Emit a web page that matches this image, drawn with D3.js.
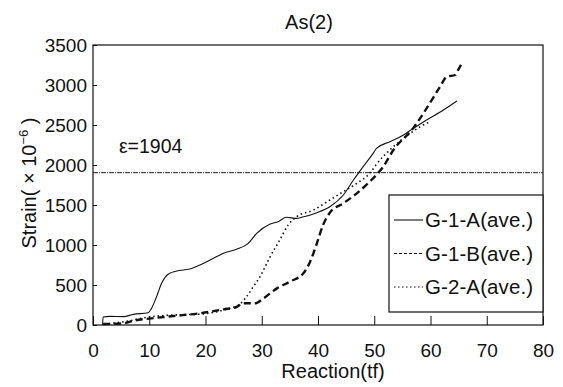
<!DOCTYPE html>
<html>
<head>
<meta charset="utf-8">
<script src="https://cdn.jsdelivr.net/npm/d3@7"></script>
<style>
  body { margin: 0; background: #fff; }
  text { font-family: "Liberation Sans", Arial, sans-serif; fill: #111; }
</style>
</head>
<body>
<div id="chart"></div>
<script>
// data
var xTicks = [0, 10, 20, 30, 40, 50, 60, 70, 80];
var yTicks = [0, 500, 1000, 1500, 2000, 2500, 3000, 3500];
var limitValue = 1904;

var g1aX = [1.7, 1.8, 3, 5.4, 7.2, 9.8, 10.4, 11.3, 12.2, 13.4, 14.9, 17.2, 19, 21.4, 23.2, 25.5, 27.6, 29.1, 31.5, 32.9, 34.4, 36.2, 37.1, 39.8, 42.1, 44.5, 46.3, 47.8, 49.8, 50.4, 52.8, 55.2, 56.9, 59.3, 62.3, 64.7];
var g1aY = [0, 100, 108, 105, 133, 154, 208, 354, 521, 637, 675, 700, 750, 833, 896, 946, 1021, 1146, 1262, 1292, 1346, 1333, 1346, 1404, 1479, 1625, 1812, 1958, 2146, 2208, 2292, 2375, 2458, 2562, 2687, 2800];

var g1bX = [1.8, 5.4, 7.2, 10.4, 14.3, 19, 23.2, 25.5, 26.7, 28.8, 30.3, 32.7, 35, 37.4, 38.6, 39.8, 40.9, 42.1, 44.5, 46.9, 49.2, 51.6, 53.4, 56.9, 59.3, 61.7, 62.9, 64.4, 64.9, 65.5];
var g1bY = [12, 21, 54, 83, 112, 146, 196, 225, 271, 271, 333, 458, 542, 646, 792, 1021, 1250, 1404, 1521, 1646, 1792, 1979, 2187, 2458, 2708, 2979, 3104, 3125, 3187, 3262];

var g2aX = [2, 5.4, 10.4, 14.3, 19, 23.2, 26.1, 27.3, 28.5, 29.7, 30.9, 31.5, 33.2, 34.7, 36.2, 39.2, 42.1, 44.5, 46.9, 49.2, 50.4, 53.4, 56.4, 59.3, 59.6];
var g2aY = [10, 40, 104, 125, 135, 187, 260, 354, 479, 604, 771, 854, 1062, 1250, 1354, 1437, 1562, 1667, 1771, 1896, 2010, 2229, 2396, 2521, 2530];

var seriesNames = ["G-1-A(ave.)", "G-1-B(ave.)", "G-2-A(ave.)"];

var svgWidth = 563, svgHeight = 387;
var margin = { top: 45, right: 20, bottom: 62, left: 93 };
var width = 450, height = 280;

var svg = d3.select("#chart").append("svg")
  .attr("width", svgWidth)
  .attr("height", svgHeight);

var g = svg.append("g")
  .attr("transform", "translate(" + margin.left + "," + margin.top + ")");

var x = d3.scaleLinear().domain([0, 80]).range([0, width]);
var y = d3.scaleLinear().domain([0, 3500]).range([height, 0]);

// axes, ticks pointing inward
var xAxis = g.append("g")
  .attr("transform", "translate(0," + height + ")")
  .call(d3.axisBottom(x).tickValues(xTicks).tickFormat(d3.format("d"))
    .tickSizeInner(-9).tickSizeOuter(0).tickPadding(19));
var yAxis = g.append("g")
  .call(d3.axisLeft(y).tickValues(yTicks).tickFormat(d3.format("d"))
    .tickSizeInner(-4).tickSizeOuter(0).tickPadding(10));

[xAxis, yAxis].forEach(function (a) {
  a.select(".domain").remove();
  a.selectAll("line").attr("stroke", "#111");
  a.selectAll("text").attr("font-size", 19).attr("font-family", "Liberation Sans, Arial, sans-serif").attr("fill", "#111");
});
yAxis.selectAll("text").attr("dy", "0.36em").attr("x", -6);

// frame
g.append("rect")
  .attr("width", width).attr("height", height)
  .attr("fill", "none").attr("stroke", "#111").attr("stroke-width", 1.2);

// limit line
g.append("line")
  .attr("x1", 0).attr("x2", width)
  .attr("y1", y(limitValue)).attr("y2", y(limitValue))
  .attr("stroke", "#222").attr("stroke-width", 1)
  .attr("stroke-dasharray", "5,1,1,1");
g.append("text")
  .attr("x", x(4.6)).attr("y", y(limitValue) - 20)
  .attr("font-size", 19.5)
  .text("\u03b5=1904");

// curves
var line = d3.line()
  .x(function (d) { return x(d[0]); })
  .y(function (d) { return y(d[1]); })
  .curve(d3.curveMonotoneX);

function pairs(xs, ys) { return xs.map(function (v, i) { return [v, ys[i]]; }); }

g.append("path").datum(pairs(g1aX, g1aY))
  .attr("d", line).attr("fill", "none")
  .attr("stroke", "#111").attr("stroke-width", 1.1);
g.append("path").datum(pairs(g1bX, g1bY))
  .attr("d", line).attr("fill", "none")
  .attr("stroke", "#111").attr("stroke-width", 2.4)
  .attr("stroke-dasharray", "7,4");
g.append("path").datum(pairs(g2aX, g2aY))
  .attr("d", line).attr("fill", "none")
  .attr("stroke", "#111").attr("stroke-width", 1.6)
  .attr("stroke-dasharray", "1.5,3");

// legend
var legend = g.append("g").attr("transform", "translate(" + (width - 154) + ",150)");
legend.append("rect")
  .attr("width", 154).attr("height", 117)
  .attr("fill", "#fff").attr("stroke", "#111").attr("stroke-width", 1.2);
var dashes = [null, "3,2", "1.5,2.5"];
seriesNames.forEach(function (name, i) {
  var yy = 25 + i * 33.5;
  legend.append("line")
    .attr("x1", 5).attr("x2", 34).attr("y1", yy).attr("y2", yy)
    .attr("stroke", "#111").attr("stroke-width", 1.1)
    .attr("stroke-dasharray", dashes[i]);
  legend.append("text")
    .attr("x", 36).attr("y", yy).attr("dy", "0.36em")
    .attr("font-size", 20.5)
    .attr("textLength", 108)
    .text(name);
});

// titles
svg.append("text")
  .attr("x", 309).attr("y", 29)
  .attr("text-anchor", "middle").attr("font-size", 20)
  .text("As(2)");
svg.append("text")
  .attr("x", 333).attr("y", 378)
  .attr("text-anchor", "middle").attr("font-size", 20)
  .text("Reaction(tf)");
var yl = svg.append("text")
  .attr("transform", "translate(36,183) rotate(-90)")
  .attr("text-anchor", "middle").attr("font-size", 20);
yl.append("tspan").text("Strain( \u00d7 10");
yl.append("tspan").attr("dy", -8).attr("font-size", 13).text("\u22126");
yl.append("tspan").attr("dy", 8).text(" )");
</script>
</body>
</html>
